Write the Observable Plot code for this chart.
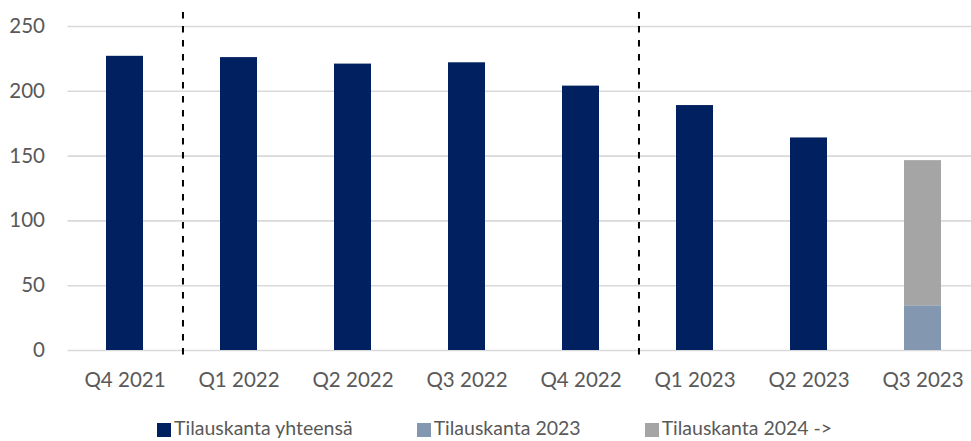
<!DOCTYPE html>
<html>
<head>
<meta charset="utf-8">
<script src="https://cdn.jsdelivr.net/npm/d3@7"></script>
<script src="https://cdn.jsdelivr.net/npm/@observablehq/plot@0.6"></script>
<style>
  html, body { margin: 0; padding: 0; background: #fff; overflow: hidden; }
  #wrap { position: relative; width: 971px; height: 441px; overflow: hidden; font-family: Lato, sans-serif; }
  #legend { position: absolute; left: 157px; top: 416px; display: flex; gap: 64px; color: #595959; font-size: 19.5px; line-height: 24px; white-space: nowrap; }
  .item { display: flex; align-items: center; }
  .sw { width: 14px; height: 14px; margin-right: 3px; margin-top: 3px; display: inline-block; }
</style>
</head>
<body>
<div id="wrap"></div>
<script>
const quarters = ["Q4 2021", "Q1 2022", "Q2 2022", "Q3 2022", "Q4 2022", "Q1 2023", "Q2 2023", "Q3 2023"];
const totalOrders = [227, 226, 221, 222, 204, 189, 164, 0];
const orders2023 = [0, 0, 0, 0, 0, 0, 0, 34.5];
const orders2024on = [0, 0, 0, 0, 0, 0, 0, 112];
const seriesNames = ["Tilauskanta yhteensä", "Tilauskanta 2023", "Tilauskanta 2024 ->"];
const seriesColors = ["#002060", "#8497B0", "#A5A5A5"];
const yTicks = [0, 50, 100, 150, 200, 250];
const dividers = ["Q1 2022", "Q1 2023"];

const seriesValues = [totalOrders, orders2023, orders2024on];
const rows = [];
seriesNames.forEach((s, si) => {
  quarters.forEach((q, qi) => rows.push({quarter: q, series: s, value: seriesValues[si][qi]}));
});

const W = 971, H = 410, ML = 67.5, MR = -9;
const step = (W - MR - ML) / quarters.length;

const chart = Plot.plot({
  width: W,
  height: H,
  marginLeft: ML,
  marginRight: MR,
  marginTop: 26,
  marginBottom: 60,
  style: {fontFamily: "Lato, sans-serif", fontSize: "20.5px", color: "#595959", background: "#fff", overflow: "visible"},
  x: {domain: quarters, paddingInner: 0.675, paddingOuter: 0.3375, label: null, tickSize: 0, tickPadding: 22},
  y: {domain: [0, 250], ticks: yTicks, label: null, tickSize: 0, tickPadding: 23},
  color: {domain: seriesNames, range: seriesColors},
  marks: [
    Plot.ruleY(yTicks, {stroke: "#D9D9D9", strokeWidth: 1.6}),
    Plot.barY(rows, {x: "quarter", y: "value", fill: "series"}),
    Plot.ruleX(dividers, {x: d => d, dx: -step / 2 + 1, stroke: "#000", strokeWidth: 2, strokeDasharray: "6.5,7.5", insetTop: -14, insetBottom: -6})
  ]
});
document.getElementById("wrap").appendChild(chart);

const legend = document.createElement("div");
legend.id = "legend";
seriesNames.forEach((s, i) => {
  const it = document.createElement("div");
  it.className = "item";
  const sw = document.createElement("span");
  sw.className = "sw";
  sw.style.background = seriesColors[i];
  const t = document.createElement("span");
  t.textContent = s;
  it.appendChild(sw);
  it.appendChild(t);
  legend.appendChild(it);
});
document.getElementById("wrap").appendChild(legend);
</script>
</body>
</html>
